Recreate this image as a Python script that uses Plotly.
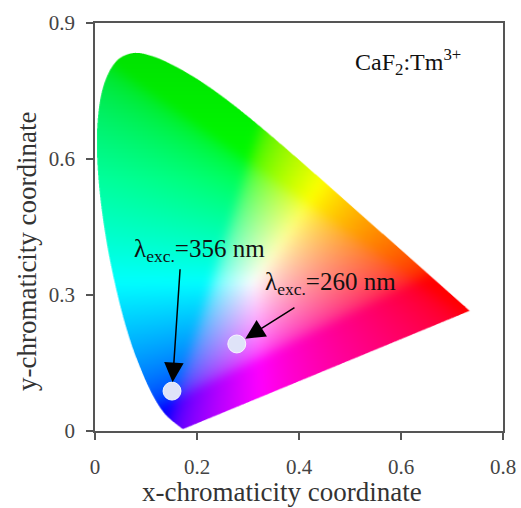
import base64
import struct
import zlib

import numpy as np
import plotly.graph_objects as go

# ---------------- data ----------------
# CIE 1931 2-degree spectral locus (chromaticity coordinates), 380-700 nm
wavelength_nm = list(range(380, 705, 5))
locus_x = [0.1741, 0.1740, 0.1738, 0.1736, 0.1733, 0.1730, 0.1726, 0.1721, 0.1714, 0.1703,
           0.1689, 0.1669, 0.1644, 0.1611, 0.1566, 0.1510, 0.1440, 0.1355, 0.1241, 0.1096,
           0.0913, 0.0687, 0.0454, 0.0235, 0.0082, 0.0039, 0.0139, 0.0389, 0.0743, 0.1142,
           0.1547, 0.1929, 0.2296, 0.2658, 0.3016, 0.3373, 0.3731, 0.4087, 0.4441, 0.4788,
           0.5125, 0.5448, 0.5752, 0.6029, 0.6270, 0.6482, 0.6658, 0.6801, 0.6915, 0.7006,
           0.7079, 0.7140, 0.7190, 0.7230, 0.7260, 0.7283, 0.7300, 0.7311, 0.7320, 0.7327,
           0.7334, 0.7340, 0.7344, 0.7346, 0.7347]
locus_y = [0.0050, 0.0050, 0.0049, 0.0049, 0.0048, 0.0048, 0.0048, 0.0048, 0.0051, 0.0058,
           0.0069, 0.0086, 0.0109, 0.0138, 0.0177, 0.0227, 0.0297, 0.0399, 0.0578, 0.0868,
           0.1327, 0.2007, 0.2950, 0.4127, 0.5384, 0.6548, 0.7502, 0.8120, 0.8338, 0.8262,
           0.8059, 0.7816, 0.7543, 0.7243, 0.6923, 0.6589, 0.6245, 0.5896, 0.5547, 0.5202,
           0.4866, 0.4544, 0.4242, 0.3965, 0.3725, 0.3514, 0.3340, 0.3197, 0.3083, 0.2993,
           0.2920, 0.2859, 0.2809, 0.2770, 0.2740, 0.2717, 0.2700, 0.2689, 0.2680, 0.2673,
           0.2666, 0.2660, 0.2656, 0.2654, 0.2653]

# CIE coordinates of the emission for the two excitation wavelengths
excitation_labels = ["356 nm", "260 nm"]
point_x = [0.151, 0.278]
point_y = [0.088, 0.192]

x_ticks = [0, 0.2, 0.4, 0.6, 0.8]
x_tick_text = ["0", "0.2", "0.4", "0.6", "0.8"]
y_ticks = [0, 0.3, 0.6, 0.9]
y_tick_text = ["0", "0.3", "0.6", "0.9"]
X_RANGE = [0, 0.8]
Y_RANGE = [0, 0.9]
x_title = "x-chromaticity coordinate"
y_title = "y-chromaticity coordinate"


# ---------------- chromaticity image ----------------
def smooth_outline(xs, ys, sub=8):
    """Catmull-Rom rendering of the locus outline (drawing only, like a spline line shape)."""
    p = np.column_stack([xs, ys])
    p = np.vstack([p[0], p, p[-1]])
    out = []
    for i in range(1, len(p) - 2):
        p0, p1, p2, p3 = p[i - 1], p[i], p[i + 1], p[i + 2]
        for t in np.linspace(0, 1, sub, endpoint=False):
            t2, t3 = t * t, t * t * t
            out.append(0.5 * (2 * p1 + (-p0 + p2) * t + (2 * p0 - 5 * p1 + 4 * p2 - p3) * t2
                              + (-p0 + 3 * p1 - 3 * p2 + p3) * t3))
    out.append(p[-2])
    out = np.array(out)
    return out[:, 0], out[:, 1]


def inside_polygon(px, py, vx, vy):
    inside = np.zeros(px.shape, dtype=bool)
    n = len(vx)
    j = n - 1
    for i in range(n):
        xi, yi, xj, yj = vx[i], vy[i], vx[j], vy[j]
        if yi == yj:
            j = i
            continue
        cond = (yi > py) != (yj > py)
        xint = (xj - xi) * (py - yi) / (yj - yi) + xi
        inside ^= cond & (px < xint)
        j = i
    return inside


def xy_to_srgb(x, y):
    y = np.maximum(y, 2e-3)
    X = x / y
    Y = np.ones_like(x)
    Z = (1 - x - y) / y
    r = 3.2406 * X - 1.5372 * Y - 0.4986 * Z
    g = -0.9689 * X + 1.8758 * Y + 0.0415 * Z
    b = 0.0557 * X - 0.2040 * Y + 1.0570 * Z
    rgb = np.stack([r, g, b], axis=-1)
    rgb = np.clip(rgb, 0, None)
    rgb = rgb / np.maximum(rgb.max(axis=-1, keepdims=True), 1e-9)
    rgb = np.where(rgb <= 0.0031308, 12.92 * rgb, 1.055 * np.power(rgb, 1 / 2.4) - 0.055)
    return np.clip(rgb, 0, 1)


def blur(img, sigma):
    rad = int(3 * sigma)
    k = np.exp(-0.5 * (np.arange(-rad, rad + 1) / sigma) ** 2)
    k /= k.sum()
    pad = np.pad(img, ((rad, rad), (rad, rad), (0, 0)), mode="edge")
    tmp = np.zeros((pad.shape[0], img.shape[1], img.shape[2]))
    for i, w in enumerate(k):
        tmp += w * pad[:, i:i + img.shape[1], :]
    out = np.zeros(img.shape)
    for i, w in enumerate(k):
        out += w * tmp[i:i + img.shape[0], :, :]
    return out


W, H = 400, 450
x0, x1 = X_RANGE
y0, y1 = Y_RANGE
dxp = (x1 - x0) / W
dyp = (y1 - y0) / H
cols = x0 + (np.arange(W) + 0.5) * dxp
rows = y1 - (np.arange(H) + 0.5) * dyp  # top row first
CX, CY = np.meshgrid(cols, rows)

vx, vy = smooth_outline(locus_x, locus_y)
ss = 3
alpha = np.zeros(CX.shape)
for a in range(ss):
    for b in range(ss):
        ox = ((a + 0.5) / ss - 0.5) * dxp
        oy = ((b + 0.5) / ss - 0.5) * dyp
        alpha += inside_polygon(CX + ox, CY + oy, vx, vy)
alpha /= ss * ss

rgb = blur(xy_to_srgb(CX, CY), 5.0)
# slightly deeper greens towards the top, as in the source rendering
rgb[..., 1] *= np.clip(1.0 - 0.12 * np.clip((CY - 0.55) / 0.3, 0, 1), 0, 1)
rgba = np.zeros((H, W, 4), dtype=np.uint8)
rgba[..., :3] = (np.clip(rgb, 0, 1) * 255).round().astype(np.uint8)
rgba[..., 3] = (alpha * 255).round().astype(np.uint8)


def png_data_uri(img):
    h, w, _ = img.shape
    raw = b"".join(b"\x00" + img[i].tobytes() for i in range(h))

    def chunk(tag, data):
        c = struct.pack(">I", len(data)) + tag + data
        return c + struct.pack(">I", zlib.crc32(tag + data) & 0xFFFFFFFF)

    png = (b"\x89PNG\r\n\x1a\n"
           + chunk(b"IHDR", struct.pack(">IIBBBBB", w, h, 8, 6, 0, 0, 0))
           + chunk(b"IDAT", zlib.compress(raw, 9))
           + chunk(b"IEND", b""))
    return "data:image/png;base64," + base64.b64encode(png).decode()


# ---------------- figure ----------------
SERIF = "Liberation Serif, Times New Roman, serif"

fig = go.Figure()
fig.add_layout_image(
    source=png_data_uri(rgba), xref="x", yref="y",
    x=x0, y=y1, sizex=x1 - x0, sizey=y1 - y0,
    xanchor="left", yanchor="top", sizing="stretch", layer="below",
)

fig.add_trace(go.Scatter(
    x=point_x, y=point_y, mode="markers",
    marker=dict(size=18, color="#dfe3f8", line=dict(width=1, color="rgba(255,255,255,0.85)")),
    text=excitation_labels, hoverinfo="text", showlegend=False,
))

# arrows (head at the data points)
arrow_tails = [(0.167, 0.36), (0.394, 0.274)]
standoffs = [9, 10]
for px, py, (tx, ty), so in zip(point_x, point_y, arrow_tails, standoffs):
    fig.add_annotation(
        x=px, y=py, ax=tx, ay=ty, xref="x", yref="y", axref="x", ayref="y",
        text="", showarrow=True, arrowhead=2, arrowsize=2.6, arrowwidth=1.5,
        arrowcolor="#000000", standoff=so,
    )

label_pos = [(0.072, 0.399), (0.329, 0.326)]
for lab, (lx, ly) in zip(excitation_labels, label_pos):
    fig.add_annotation(
        x=lx, y=ly, xref="x", yref="y", xanchor="left", yanchor="middle",
        text="λ<sub>exc.</sub>=" + lab, showarrow=False,
        font=dict(family=SERIF, size=25, color="#111111"),
    )

fig.add_annotation(
    x=0.506, y=0.815, xref="x", yref="y", xanchor="left", yanchor="middle",
    text="CaF<sub>2</sub>:Tm<sup>3+</sup>", showarrow=False,
    font=dict(family=SERIF, size=24, color="#111111"),
)

# axis titles (placed as in the source, slightly off-centre)
fig.add_annotation(
    x=0.458, y=0, xref="paper", yref="paper", xanchor="center", yanchor="middle",
    yshift=-61, text=x_title, showarrow=False,
    font=dict(family=SERIF, size=27, color="#333333"),
)
fig.add_annotation(
    x=0, y=0.441, xref="paper", yref="paper", xanchor="center", yanchor="middle",
    xshift=-68, textangle=-90, text=y_title, showarrow=False,
    font=dict(family=SERIF, size=27, color="#333333"),
)

axis_common = dict(
    showgrid=False, zeroline=False, showline=True, linecolor="#555555", linewidth=1.5,
    mirror=True, ticks="outside", ticklen=7, tickwidth=1.5, tickcolor="#555555",
    tickfont=dict(family=SERIF, size=21, color="#444444"), automargin=False,
)

fig.update_layout(
    width=521, height=508,
    margin=dict(l=95, r=18, t=23, b=77),
    paper_bgcolor="white", plot_bgcolor="white",
    xaxis=dict(range=X_RANGE, tickvals=x_ticks, ticktext=x_tick_text, ticklabelstandoff=9,
               **axis_common),
    yaxis=dict(range=Y_RANGE, tickvals=y_ticks, ticktext=y_tick_text, ticklabelstandoff=7,
               **axis_common),
    showlegend=False,
)

# the page body has a default 8 px margin; remove it so the 521x508 figure fills the window
fig.write_html("out.html", config={"displayModeBar": False},
               post_script="document.body.style.margin='0';")
